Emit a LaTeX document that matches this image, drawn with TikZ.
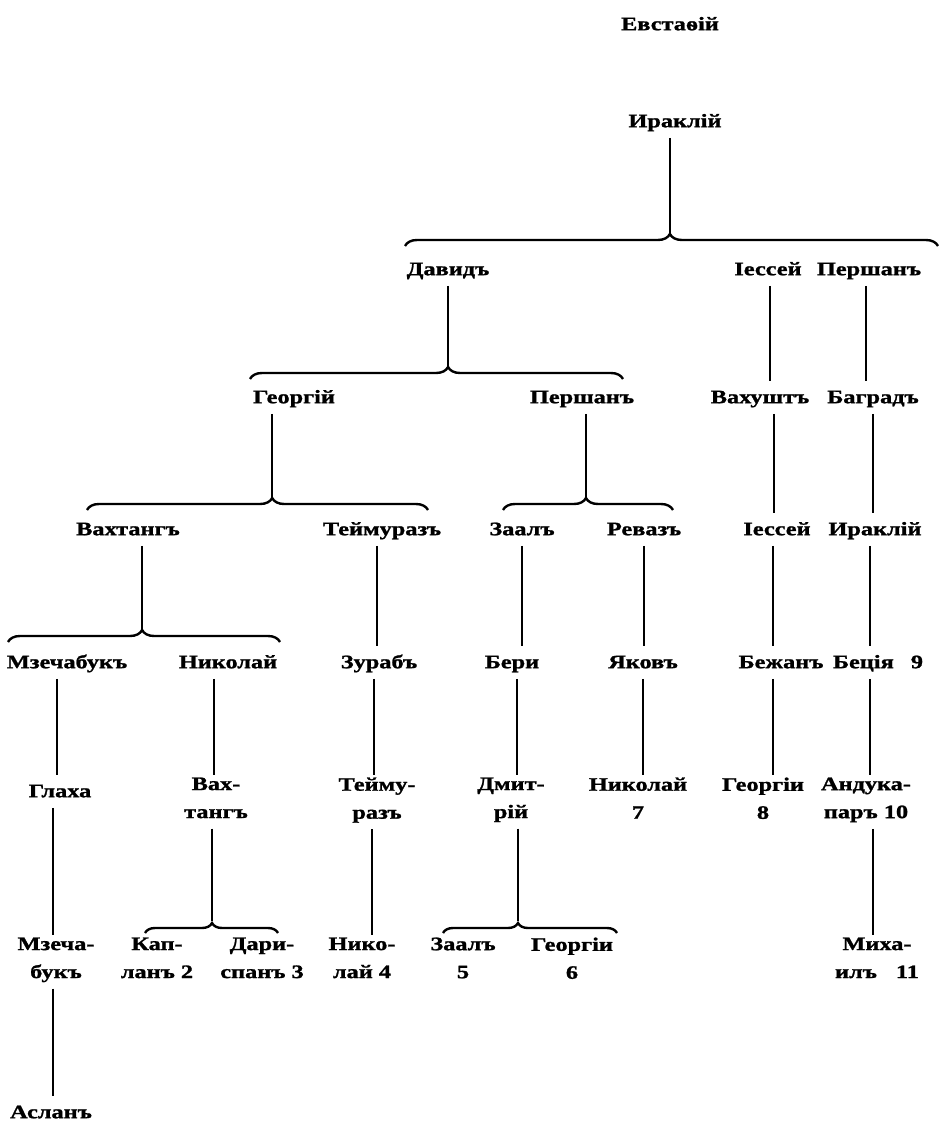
\documentclass[tikz,border=0pt]{standalone}
\usepackage{fontspec}
\setmainfont{Liberation Serif}[FakeStretch=1.28, BoldFeatures={FakeBold=1.3}]
\usetikzlibrary{decorations.pathreplacing}
\begin{document}
\begin{tikzpicture}[x=1pt,y=-1pt,
  nm/.style={font=\bfseries\fontsize{19}{28}\selectfont, align=center, anchor=north, inner sep=2pt,
    execute at begin node=\strut, execute at end node=\strut},
  ln/.style={line width=1.6pt},
  brc/.style={line width=2.4pt, decorate}]
\useasboundingbox (0,0) rectangle (940,1123);
% row 0/1
\node[nm] (evst) at (670,8.4) {Евстаѳій};
\node[nm] (irak1) at (675,105.4) {Ираклій};
% row 2
\node[nm] (david) at (448,253.4) {Давидъ};
\node[nm] (iess1) at (768,253.4) {Іессей};
\node[nm] (persh1) at (869,253.4) {Першанъ};
% row 3
\node[nm] (georg) at (294,381.4) {Георгій};
\node[nm] (persh2) at (582,381.4) {Першанъ};
\node[nm] (vakhu) at (760,381.4) {Вахуштъ};
\node[nm] (bagr) at (873,381.4) {Баградъ};
% row 4
\node[nm] (vakht1) at (128,513.4) {Вахтангъ};
\node[nm] (teim1) at (382,513.4) {Теймуразъ};
\node[nm] (zaal1) at (522,513.4) {Заалъ};
\node[nm] (revaz) at (644,513.4) {Ревазъ};
\node[nm] (iess2) at (777,513.4) {Іессей};
\node[nm] (irak2) at (875,513.4) {Ираклій};
% row 5
\node[nm] (mzech1) at (67,646.4) {Мзечабукъ};
\node[nm] (nikol1) at (228,646.4) {Николай};
\node[nm] (zurab) at (379,646.4) {Зурабъ};
\node[nm] (beri) at (512,646.4) {Бери};
\node[nm] (yakov) at (643,646.4) {Яковъ};
\node[nm] (bezhan) at (781,646.4) {Бежанъ};
\node[nm] (betsia) at (878,646.4) {Бецiя\hspace{0.9em}9};
% row 6
\node[nm] (glakha) at (60,775.4) {Глаха};
\node[nm] (vakht2) at (216,775.4) {Вах-\\тангъ};
\node[nm] (teim2) at (377,775.4) {Тейму-\\разъ};
\node[nm] (dmitr) at (511,775.4) {Дмит-\\рій};
\node[nm] (nikol7) at (638,775.4) {Николай\\7};
\node[nm] (georg8) at (763,775.4) {Георгіи\\8};
\node[nm] (andu) at (866,775.4) {Андука-\\паръ 10};
% row 7
\node[nm] (mzech2) at (56,935.4) {Мзеча-\\букъ};
\node[nm] (kapl) at (157,935.4) {Кап-\\ланъ 2};
\node[nm] (darisp) at (262,935.4) {Дари-\\спанъ 3};
\node[nm] (nikol4) at (362,935.4) {Нико-\\лай 4};
\node[nm] (zaal5) at (463,935.4) {Заалъ\\5};
\node[nm] (georg6) at (572,935.4) {Георгіи\\6};
\node[nm] (mikh) at (877,935.4) {Миха-\\илъ\hspace{1em}11};
% row 8
\node[nm] (aslan) at (51,1096.4) {Асланъ};

% braces
\coordinate (b1l) at (405,246); \coordinate (b1r) at (938,246); \coordinate (b1t) at (670,234);
\coordinate (b2l) at (250,379); \coordinate (b2r) at (623,379); \coordinate (b2t) at (448,367);
\coordinate (b3l) at (87,510);  \coordinate (b3r) at (428,510); \coordinate (b3t) at (272,498);
\coordinate (b4l) at (503,510); \coordinate (b4r) at (673,510); \coordinate (b4t) at (586,498);
\coordinate (b5l) at (8,642);   \coordinate (b5r) at (280,642); \coordinate (b5t) at (142,630);
\coordinate (b6l) at (145,933); \coordinate (b6r) at (278,933); \coordinate (b6t) at (212,921);
\coordinate (b7l) at (443,933); \coordinate (b7r) at (617,933); \coordinate (b7t) at (518,921);
\draw[brc, decoration={brace, amplitude=12pt, aspect=0.497}] (b1l) -- (b1r);
\draw[brc, decoration={brace, amplitude=12pt, aspect=0.531}] (b2l) -- (b2r);
\draw[brc, decoration={brace, amplitude=12pt, aspect=0.543}] (b3l) -- (b3r);
\draw[brc, decoration={brace, amplitude=12pt, aspect=0.488}] (b4l) -- (b4r);
\draw[brc, decoration={brace, amplitude=12pt, aspect=0.493}] (b5l) -- (b5r);
\draw[brc, decoration={brace, amplitude=10pt, aspect=0.504}] (b6l) -- (b6r);
\draw[brc, decoration={brace, amplitude=10pt, aspect=0.431}] (b7l) -- (b7r);

% parent to brace
\draw[ln] (irak1.south -| b1t) -- (b1t);
\draw[ln] (david.south -| b2t) -- (b2t);
\draw[ln] (georg.south -| b3t) -- (b3t);
\draw[ln] (persh2.south -| b4t) -- (b4t);
\draw[ln] (vakht1.south -| b5t) -- (b5t);
\draw[ln] (vakht2.south -| b6t) -- (b6t);
\draw[ln] (dmitr.south -| b7t) -- (b7t);

% single lines
\draw[ln] ([xshift=2]iess1.south) -- ([xshift=2]iess1.south |- vakhu.north);
\draw[ln] ([xshift=-3]persh1.south) -- ([xshift=-3]persh1.south |- bagr.north);
\draw[ln] ([xshift=14]vakhu.south) -- ([xshift=14]vakhu.south |- iess2.north);
\draw[ln] (bagr.south) -- (bagr.south |- irak2.north);
\draw[ln] ([xshift=-5]teim1.south) -- ([xshift=-5]teim1.south |- zurab.north);
\draw[ln] (zaal1.south) -- (zaal1.south |- beri.north);
\draw[ln] (revaz.south) -- (revaz.south |- yakov.north);
\draw[ln] ([xshift=-4]iess2.south) -- ([xshift=-4]iess2.south |- bezhan.north);
\draw[ln] ([xshift=-5]irak2.south) -- ([xshift=-5]irak2.south |- betsia.north);
\draw[ln] ([xshift=-10]mzech1.south) -- ([xshift=-10]mzech1.south |- glakha.north);
\draw[ln] ([xshift=-14]nikol1.south) -- ([xshift=-14]nikol1.south |- vakht2.north);
\draw[ln] ([xshift=-5]zurab.south) -- ([xshift=-5]zurab.south |- teim2.north);
\draw[ln] ([xshift=5]beri.south) -- ([xshift=5]beri.south |- dmitr.north);
\draw[ln] (yakov.south) -- (yakov.south |- nikol7.north);
\draw[ln] ([xshift=-8]bezhan.south) -- ([xshift=-8]bezhan.south |- georg8.north);
\draw[ln] ([xshift=-8]betsia.south) -- ([xshift=-8]betsia.south |- andu.north);
\draw[ln] ([xshift=-7]glakha.south) -- ([xshift=-7]glakha.south |- mzech2.north);
\draw[ln] ([xshift=-5]teim2.south) -- ([xshift=-5]teim2.south |- nikol4.north);
\draw[ln] ([xshift=7]andu.south) -- ([xshift=7]andu.south |- mikh.north);
\draw[ln] ([xshift=-3]mzech2.south) -- ([xshift=-3]mzech2.south |- aslan.north);
\end{tikzpicture}
\end{document}
